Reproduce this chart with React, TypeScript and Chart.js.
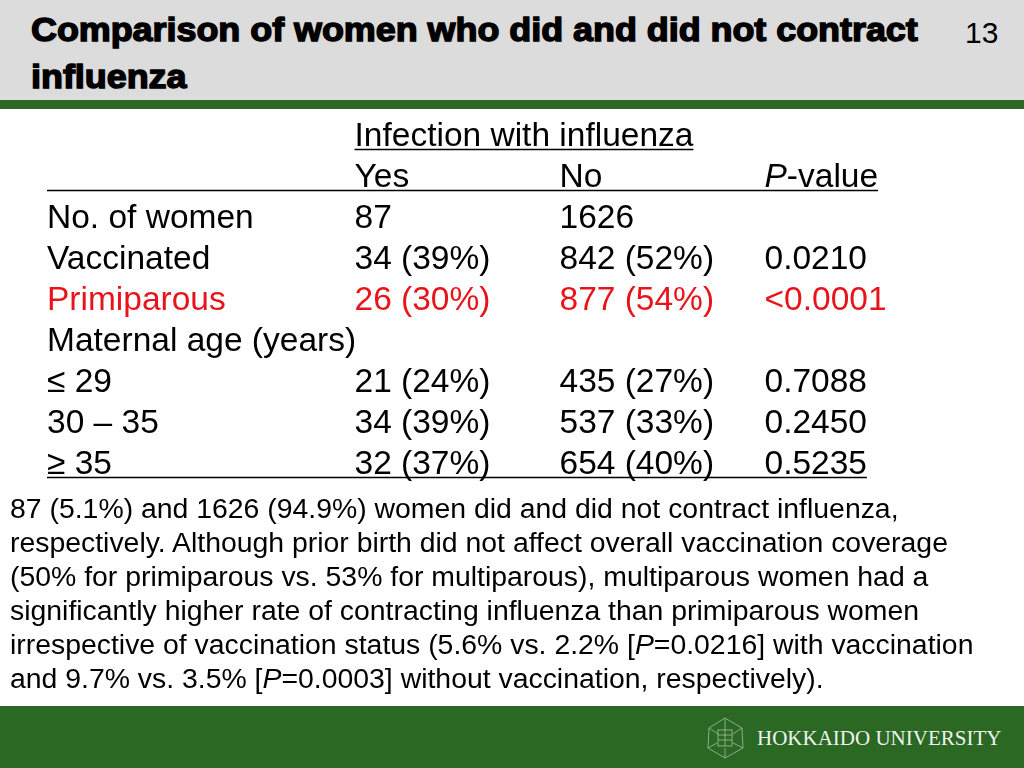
import React, { useEffect, useRef } from 'react';
import { Chart, registerables } from 'chart.js';

Chart.register(...registerables);

// ---- Slide text ----
const titleLines = ['Comparison of women who did and did not contract', 'influenza'];
const slideNumber = '13';
const footerText = 'HOKKAIDO UNIVERSITY';

// ---- Table data ----
const groupHeader = 'Infection with influenza';
const columnHeaders = ['Yes', 'No', 'P-value'];
const rowLabels = ['No. of women', 'Vaccinated', 'Primiparous', 'Maternal age (years)', '≤ 29', '30 – 35', '≥ 35'];
const yesCounts: (number | null)[] = [87, 34, 26, null, 21, 34, 32];
const yesPercents: (number | null)[] = [null, 39, 30, null, 24, 39, 37];
const noCounts: (number | null)[] = [1626, 842, 877, null, 435, 537, 654];
const noPercents: (number | null)[] = [null, 52, 54, null, 27, 33, 40];
const pValues = ['', '0.0210', '<0.0001', '', '0.7088', '0.2450', '0.5235'];
const highlightRows = ['Primiparous'];

const noteLines = [
  '87 (5.1%) and 1626 (94.9%) women did and did not contract influenza,',
  'respectively. Although prior birth did not affect overall vaccination coverage',
  '(50% for primiparous vs. 53% for multiparous), multiparous women had a',
  'significantly higher rate of contracting influenza than primiparous women',
  'irrespective of vaccination status (5.6% vs. 2.2% [P=0.0216] with vaccination',
  'and 9.7% vs. 3.5% [P=0.0003] without vaccination, respectively).',
];

// column positions on the x scale (label column, Yes, No, P-value)
const colX = [0, 1.5, 2.5, 3.5];

const fmtCell = (n: number | null, p: number | null) =>
  n === null ? '' : p === null ? String(n) : `${n} (${p}%)`;

const FONT = '"Liberation Sans", Arial, Helvetica, sans-serif';
const RED = '#e8141b';
const GREEN = '#2a6824';
const CELL_SIZE = 33.5;

function TableChart() {
  const ref = useRef<HTMLCanvasElement | null>(null);
  useEffect(() => {
    if (!ref.current) return;
    const firstRow = 2;
    const rowColor = (i: number) => (highlightRows.includes(rowLabels[i]) ? RED : '#000000');
    const mk = (x: number, texts: string[], startRow: number, colors: string[], extra: any = {}) => ({
      data: texts.map((_, i) => ({ x, y: startRow + i })),
      texts,
      colors,
      pointRadius: 0,
      pointHoverRadius: 0,
      ...extra,
    });
    const datasets: any[] = [
      mk(colX[1], [groupHeader], 0, ['#000'], { underline: true }),
      {
        data: columnHeaders.map((_, i) => ({ x: colX[i + 1], y: 1 })),
        texts: columnHeaders,
        colors: columnHeaders.map(() => '#000'),
        pointRadius: 0,
        pointHoverRadius: 0,
      },
      mk(colX[0], rowLabels, firstRow, rowLabels.map((_, i) => rowColor(i))),
      mk(colX[1], yesCounts.map((n, i) => fmtCell(n, yesPercents[i])), firstRow, rowLabels.map((_, i) => rowColor(i))),
      mk(colX[2], noCounts.map((n, i) => fmtCell(n, noPercents[i])), firstRow, rowLabels.map((_, i) => rowColor(i))),
      mk(colX[3], pValues, firstRow, rowLabels.map((_, i) => rowColor(i))),
    ];

    const textPlugin = {
      id: 'cellText',
      afterDatasetsDraw(chart: any) {
        const ctx = chart.ctx as CanvasRenderingContext2D;
        const font = `${CELL_SIZE}px ${FONT}`;
        const italic = `italic ${CELL_SIZE}px ${FONT}`;
        ctx.save();
        ctx.textBaseline = 'alphabetic';
        ctx.textAlign = 'left';
        const drawText = (t: string, x: number, y: number, color: string) => {
          ctx.fillStyle = color;
          if (t.startsWith('P-')) {
            ctx.font = italic;
            ctx.fillText('P', x, y);
            const w = ctx.measureText('P').width;
            ctx.font = font;
            ctx.fillText(t.slice(1), x + w, y);
            return w + ctx.measureText(t.slice(1)).width;
          }
          ctx.font = font;
          ctx.fillText(t, x, y);
          return ctx.measureText(t).width;
        };
        chart.data.datasets.forEach((ds: any, di: number) => {
          const meta = chart.getDatasetMeta(di);
          meta.data.forEach((pt: any, j: number) => {
            const t = ds.texts[j];
            if (!t) return;
            const w = drawText(t, pt.x, pt.y, ds.colors[j]);
            if (ds.underline) {
              ctx.strokeStyle = ds.colors[j];
              ctx.lineWidth = 1.5;
              ctx.beginPath();
              ctx.moveTo(pt.x, pt.y + 3.5);
              ctx.lineTo(pt.x + w, pt.y + 3.5);
              ctx.stroke();
            }
          });
        });
        // table rules under the column header row and under the last row
        const xs = chart.scales.x;
        const ys = chart.scales.y;
        ctx.strokeStyle = '#000';
        ctx.lineWidth = 1.5;
        ctx.font = italic;
        const pw = ctx.measureText('P').width;
        ctx.font = font;
        const headEnd = xs.getPixelForValue(colX[3]) + pw + ctx.measureText(columnHeaders[2].slice(1)).width;
        const lastEnd = xs.getPixelForValue(colX[3]) + ctx.measureText(pValues[pValues.length - 1]).width;
        const rules = [
          [ys.getPixelForValue(1) + 3.5, headEnd],
          [ys.getPixelForValue(firstRow + rowLabels.length - 1) + 3.5, lastEnd],
        ];
        rules.forEach(([y, end]) => {
          ctx.beginPath();
          ctx.moveTo(xs.getPixelForValue(colX[0]), y);
          ctx.lineTo(end, y);
          ctx.stroke();
        });
        ctx.restore();
      },
    };

    const chart = new Chart(ref.current, {
      type: 'scatter',
      data: { datasets },
      options: {
        animation: false,
        responsive: true,
        maintainAspectRatio: false,
        events: [],
        layout: { padding: { left: 47, right: 157, top: 46, bottom: 26 } },
        scales: {
          x: { type: 'linear', min: 0, max: 4, display: false },
          y: { type: 'linear', min: 0, max: firstRow + rowLabels.length - 1, reverse: true, display: false },
        },
        plugins: { legend: { display: false }, tooltip: { enabled: false } },
      } as any,
      plugins: [textPlugin],
    });
    return () => chart.destroy();
  }, []);
  return (
    <div style={{ position: 'absolute', left: 0, top: 100, width: 1024, height: 400 }}>
      <canvas ref={ref} />
    </div>
  );
}

function NoteLine({ text }: { text: string }) {
  const parts = text.split(/(?<=\[)P(?==)/);
  return (
    <div style={{ whiteSpace: 'nowrap' }}>
      {parts.map((p, i) => (
        <React.Fragment key={i}>
          {i > 0 && <i>P</i>}
          {p}
        </React.Fragment>
      ))}
    </div>
  );
}

function Logo() {
  return (
    <svg width="44" height="44" viewBox="0 0 44 44" style={{ position: 'absolute', left: 703, top: 716 }}>
      <g fill="none" stroke="#cfdcc9" strokeWidth="0.8" opacity="0.75">
        <polygon points="22,2 39,12 40,32 22,42 5,32 6,12" />
        <line x1="22" y1="2" x2="22" y2="14" />
        <line x1="6" y1="12" x2="15" y2="18" />
        <line x1="39" y1="12" x2="30" y2="18" />
        <line x1="5" y1="32" x2="14" y2="27" />
        <line x1="40" y1="32" x2="30" y2="27" />
        <line x1="22" y1="42" x2="22" y2="32" />
        <rect x="15" y="14" width="14" height="16" />
        <line x1="15" y1="19" x2="29" y2="19" />
        <line x1="15" y1="24" x2="29" y2="24" />
        <line x1="22" y1="14" x2="22" y2="30" />
      </g>
    </svg>
  );
}

export default function App() {
  return (
    <div
      style={{
        position: 'fixed',
        left: 0,
        top: 0,
        width: 1024,
        height: 768,
        background: '#ffffff',
        overflow: 'hidden',
        fontFamily: FONT,
        color: '#000',
      }}
    >
      <div style={{ position: 'absolute', left: 0, top: 0, width: 1024, height: 100, background: '#dcdcdc' }} />
      <div style={{ position: 'absolute', left: 0, top: 100, width: 1024, height: 9, background: GREEN }} />
      <div
        style={{
          position: 'absolute',
          left: 31,
          top: 6,
          fontSize: 34,
          fontWeight: 'bold',
          lineHeight: '47px',
          whiteSpace: 'nowrap',
          WebkitTextStroke: '1.4px #000',
          textShadow: '1px 1px 1px rgba(0,0,0,0.2)',
          transform: 'scaleX(1.055)',
          transformOrigin: 'left top',
        }}
      >
        {titleLines.map((l, i) => (
          <div key={i}>{l}</div>
        ))}
      </div>
      <div style={{ position: 'absolute', left: 965, top: 15, fontSize: 30, lineHeight: '36px' }}>{slideNumber}</div>
      <TableChart />
      <div style={{ position: 'absolute', left: 10, top: 491, fontSize: 28.4, lineHeight: '34px' }}>
        {noteLines.map((l, i) => (
          <NoteLine key={i} text={l} />
        ))}
      </div>
      <div style={{ position: 'absolute', left: 0, top: 706, width: 1024, height: 62, background: GREEN }} />
      <Logo />
      <div
        style={{
          position: 'absolute',
          left: 757,
          top: 725,
          fontFamily: '"Liberation Serif", "Times New Roman", serif',
          fontSize: 21,
          lineHeight: '26px',
          color: '#eef3ec',
          whiteSpace: 'nowrap',
        }}
      >
        {footerText}
      </div>
    </div>
  );
}
